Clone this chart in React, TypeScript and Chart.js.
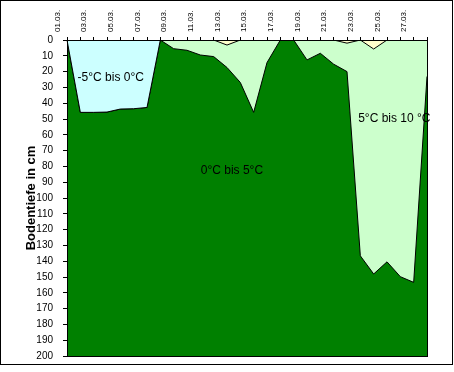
import React, { useEffect, useRef } from 'react';
import { Chart, registerables } from 'chart.js';

Chart.register(...registerables);

// Categories: measurement days (01.03. – 28.03.)
const dates = [
  '01.03.', '02.03.', '03.03.', '04.03.', '05.03.', '06.03.', '07.03.',
  '08.03.', '09.03.', '10.03.', '11.03.', '12.03.', '13.03.', '14.03.',
  '15.03.', '16.03.', '17.03.', '18.03.', '19.03.', '20.03.', '21.03.',
  '22.03.', '23.03.', '24.03.', '25.03.', '26.03.', '27.03.', '28.03.',
];

// Depth (cm) of the upper limit of the 0°C–5°C zone
const zeroToFiveTop = [
  0, 45.8, 45.8, 45.6, 43.7, 43.5, 42.7, 0, 5.5, 6.5, 9.5, 10.5, 17.4, 26.9,
  45.8, 14.3, 0, 0, 12.6, 8.4, 15.3, 20, 136.6, 148.1, 140.4, 149.8, 153.4, 23.1,
];

// Depth (cm) of the lower limit of the -5°C–0°C zone (only early March)
const frostBottom = [
  0, 45.8, 45.8, 45.6, 43.7, 43.5, 42.7, 0,
  null, null, null, null, null, null, null, null, null, null, null, null,
  null, null, null, null, null, null, null, null,
];

// Depth (cm) of the lower limit of the >10°C pockets near the surface
const warmBottom = [
  null, null, null, null, null, null, null, null, null, null, null,
  0, 3.2, 0,
  null, null, null, null, null, null,
  0, 2, 0, 5.7, 0,
  null, null, null,
];

const zoneNames = ['-5°C bis 0°C', '0°C bis 5°C', '5°C bis 10 °C'];
const depthMin = 0;
const depthMax = 200;
const depthStep = 10;

const FONT = '"Liberation Sans", Arial, sans-serif';

const decorPlugin = {
  id: 'decor',
  beforeDatasetsDraw(chart: any) {
    const { ctx, chartArea } = chart;
    const { left, top, right, bottom } = chartArea;
    ctx.save();
    ctx.fillStyle = '#CCFFCC';
    ctx.fillRect(left, top, right - left, bottom - top);
    ctx.restore();
  },
  afterDatasetsDraw(chart: any) {
    const { ctx, chartArea, scales } = chart;
    const { left, top, right, bottom } = chartArea;
    ctx.save();
    ctx.strokeStyle = '#000';
    ctx.lineWidth = 1;
    ctx.strokeRect(Math.round(left) + 0.5, Math.round(top) + 0.5, Math.round(right - left), Math.round(bottom - top));
    // zone labels, anchored in data coordinates
    const anchors = [
      [3.28, 24],
      [12.37, 83],
      [24.55, 50],
    ];
    ctx.fillStyle = '#000';
    ctx.font = '12px ' + FONT;
    ctx.textAlign = 'center';
    ctx.textBaseline = 'middle';
    zoneNames.forEach((name, i) => {
      const x = scales.x.getPixelForValue(anchors[i][0]);
      const y = scales.y.getPixelForValue(anchors[i][1]);
      ctx.fillText(name, x, y);
    });
    ctx.restore();
  },
  afterDraw(chart: any) {
    const { ctx } = chart;
    ctx.save();
    ctx.strokeStyle = '#000';
    ctx.lineWidth = 1;
    ctx.strokeRect(0.5, 0.5, 452, 364);
    ctx.restore();
  },
};

export default function App() {
  const canvasRef = useRef<HTMLCanvasElement | null>(null);

  useEffect(() => {
    document.body.style.margin = '0';
    const canvas = canvasRef.current;
    if (!canvas) return;
    Chart.defaults.font.family = FONT;
    Chart.defaults.color = '#000';

    const chart = new Chart(canvas, {
      type: 'line',
      data: {
        labels: dates,
        datasets: [
          {
            label: '>10°C',
            data: warmBottom,
            backgroundColor: '#FFFFCC',
            borderColor: '#000',
            borderWidth: 1,
            pointRadius: 0,
            tension: 0,
            spanGaps: false,
            fill: { value: depthMin },
          },
          {
            label: zoneNames[0],
            data: frostBottom,
            backgroundColor: '#CCFFFF',
            borderColor: '#000',
            borderWidth: 1,
            pointRadius: 0,
            tension: 0,
            spanGaps: false,
            fill: { value: depthMin },
          },
          {
            label: zoneNames[1],
            data: zeroToFiveTop,
            backgroundColor: '#008000',
            borderColor: '#000',
            borderWidth: 1,
            pointRadius: 0,
            tension: 0,
            fill: { value: depthMax },
          },
        ],
      },
      options: {
        responsive: false,
        animation: false,
        devicePixelRatio: 1,
        layout: { padding: { left: 0, top: 0, right: 27, bottom: 15 } },
        plugins: {
          legend: { display: false },
          tooltip: { enabled: false },
        },
        scales: {
          x: {
            type: 'category',
            position: 'top',
            offset: false,
            grid: {
              drawOnChartArea: false,
              drawTicks: true,
              tickLength: 3,
              color: '#000',
            },
            border: { color: '#000' },
            ticks: {
              autoSkip: false,
              minRotation: 90,
              maxRotation: 90,
              padding: 5,
              font: { size: 8 },
              color: '#000',
              callback: (_v: any, i: number) => (i % 2 === 0 ? dates[i] : ''),
            },
            afterFit: (scale: any) => {
              scale.height = 40;
            },
          },
          y: {
            type: 'linear',
            reverse: true,
            min: depthMin,
            max: depthMax,
            grid: {
              drawOnChartArea: false,
              drawTicks: true,
              tickLength: 4,
              color: '#000',
            },
            border: { color: '#000' },
            ticks: {
              stepSize: depthStep,
              padding: 10,
              font: { size: 10 },
              color: '#000',
            },
            title: {
              display: true,
              text: 'Bodentiefe in cm',
              font: { size: 13, weight: 'bold' },
              color: '#000',
              padding: { top: 24, bottom: 0 },
            },
            afterFit: (scale: any) => {
              scale.width = 67;
            },
          },
        },
      },
      plugins: [decorPlugin],
    });

    return () => chart.destroy();
  }, []);

  return (
    <div style={{ width: 454, height: 372, position: 'relative' }}>
      <canvas ref={canvasRef} width={454} height={372} style={{ display: 'block' }} />
    </div>
  );
}
